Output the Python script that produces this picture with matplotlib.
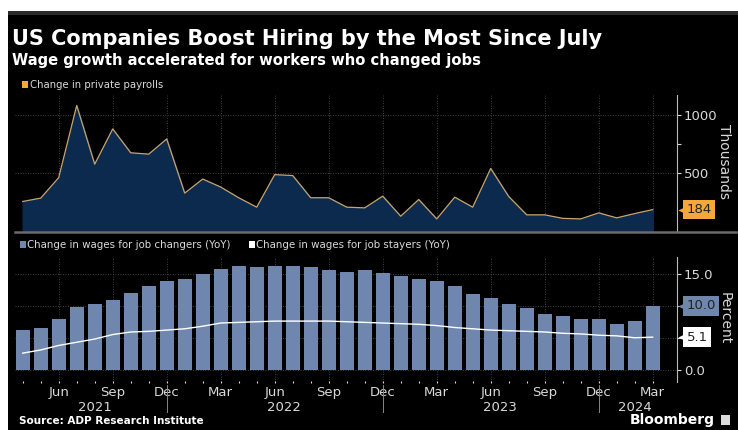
import numpy as np
import matplotlib
matplotlib.use('Agg')
import matplotlib.pyplot as plt
import matplotlib.transforms as mtransforms
from matplotlib.patches import Rectangle

plt.rcParams['font.family'] = ['DejaVu Sans']

# data (Apr 2021 - Mar 2024, monthly)
months = ['Apr', 'May', 'Jun', 'Jul', 'Aug', 'Sep', 'Oct', 'Nov', 'Dec',
          'Jan', 'Feb', 'Mar', 'Apr', 'May', 'Jun', 'Jul', 'Aug', 'Sep', 'Oct', 'Nov', 'Dec',
          'Jan', 'Feb', 'Mar', 'Apr', 'May', 'Jun', 'Jul', 'Aug', 'Sep', 'Oct', 'Nov', 'Dec',
          'Jan', 'Feb', 'Mar']
years = [2021] * 9 + [2022] * 12 + [2023] * 12 + [2024] * 3

payrolls = [254, 283, 459, 1080, 575, 878, 673, 661, 792,
            326, 447, 378, 286, 205, 485, 477, 286, 286, 205, 199, 300,
            127, 271, 104, 291, 205, 538, 297, 139, 139, 109, 104, 156,
            113, 150, 184]

job_changers = [6.2, 6.6, 8.0, 9.8, 10.3, 10.9, 12.0, 13.0, 13.8,
                14.2, 15.0, 15.7, 16.2, 16.1, 16.2, 16.2, 16.1, 15.6, 15.2, 15.6, 15.1,
                14.6, 14.2, 13.9, 13.0, 11.9, 11.2, 10.2, 9.6, 8.7, 8.4, 8.0, 8.0,
                7.1, 7.6, 10.0]

job_stayers = [2.6, 3.1, 3.8, 4.3, 4.8, 5.5, 5.9, 6.0, 6.2,
               6.4, 6.8, 7.3, 7.4, 7.5, 7.6, 7.6, 7.6, 7.6, 7.5, 7.4, 7.3,
               7.2, 7.1, 6.9, 6.6, 6.4, 6.2, 6.1, 6.0, 5.9, 5.7, 5.6, 5.4,
               5.3, 5.0, 5.1]

W, H = 738, 430
fig = plt.figure(figsize=(W / 100, H / 100), dpi=100)
fig.patch.set_facecolor('white')

def fx(px):
    return px / W

def fy(py):
    return 1 - py / H

# black card + dark top band (drawn behind everything)
fig.patches.append(Rectangle((fx(8), 0), 1 - fx(8), fy(11), transform=fig.transFigure,
                             facecolor='black', edgecolor='none', zorder=-10))
fig.patches.append(Rectangle((fx(8), fy(15)), 1 - fx(8), fy(11) - fy(15), transform=fig.transFigure,
                             facecolor='#2b2b2b', edgecolor='none', zorder=-9))

x = np.arange(len(months))
xlim = ((15 - 22.7) / 18, (677 - 22.7) / 18)
grid_color = '#555555'
tick_color = '#d9d9d9'
quarter_pos = [i for i, m in enumerate(months) if m in ('Jun', 'Sep', 'Dec', 'Mar')]


def badge(ax, value, text, color):
    # last-value tag on the right axis, box with a small notch
    trans = mtransforms.blended_transform_factory(ax.transAxes, ax.transData)
    ax.annotate(text, xy=(1.0, value), xycoords=trans,
                xytext=(7, 0), textcoords='offset points', va='center', ha='left',
                fontsize=9.5, color='#222222', annotation_clip=False,
                bbox=dict(boxstyle='square,pad=0.25', fc=color, ec='none'))
    ax.plot([1.0 + 4.5 / 662], [value], marker='<', ms=6, color=color, mec='none',
            transform=trans, clip_on=False, zorder=5)


# ---- top panel: private payrolls ----
ax1 = fig.add_axes([fx(15), fy(231), fx(677) - fx(15), fy(95) - fy(231)])
ax1.set_facecolor('none')
ax1.fill_between(x, payrolls, 0, color='#0c2a4d', zorder=2)
ax1.plot(x, payrolls, color='#c9a36a', lw=0.9, zorder=3)
ax1.set_xlim(*xlim)
ax1.set_ylim(0, 1170)
for q in quarter_pos:
    ax1.axvline(q, color=grid_color, lw=0.6, ls=(0, (1, 2)), zorder=1)
for yv in (500, 1000):
    ax1.axhline(yv, color=grid_color, lw=0.6, ls=(0, (1, 2)), zorder=1)
ax1.yaxis.tick_right()
ax1.set_yticks([500, 1000])
ax1.set_yticks([750], minor=True)
ax1.tick_params(axis='y', which='both', colors=tick_color, labelsize=9.5, length=3, width=0.8, pad=2)
ax1.tick_params(axis='x', bottom=False, labelbottom=False)
for s in ['top', 'left', 'bottom']:
    ax1.spines[s].set_visible(False)
ax1.spines['right'].set_color('#bbbbbb')
ax1.spines['right'].set_linewidth(0.8)
badge(ax1, payrolls[-1], f'{payrolls[-1]}', '#f5a83a')
fig.text(fx(724), fy(162), 'Thousands', rotation=270, color=tick_color, fontsize=10,
         ha='center', va='center')

# separator line
fig.add_artist(plt.Line2D([fx(15), fx(736)], [fy(231.5), fy(231.5)], transform=fig.transFigure,
                          color='#6a6a6a', lw=1.8))

# ---- bottom panel: wages ----
ax2 = fig.add_axes([fx(15), fy(382), fx(677) - fx(15), fy(257) - fy(382)])
ax2.set_facecolor('none')
ax2.bar(x, job_changers, width=0.76, color='#6f87ae', zorder=2)
ax2.plot(x, job_stayers, color='white', lw=1.0, zorder=3)
ax2.set_xlim(*xlim)
ax2.set_ylim(-1.9, 17.6)
for q in quarter_pos:
    ax2.axvline(q, color=grid_color, lw=0.6, ls=(0, (1, 2)), zorder=1)
for yv in (0, 5, 10, 15):
    ax2.axhline(yv, color=grid_color, lw=0.6, ls=(0, (1, 2)), zorder=1)
ax2.yaxis.tick_right()
ax2.set_yticks([0, 15])
ax2.set_yticklabels(['0.0', '15.0'])
ax2.set_yticks([5, 10], minor=True)
ax2.tick_params(axis='y', which='both', colors=tick_color, labelsize=9.5, length=3, width=0.8, pad=2)
ax2.set_xticks(quarter_pos)
ax2.set_xticklabels([months[i] for i in quarter_pos])
ax2.set_xticks(x, minor=True)
ax2.tick_params(axis='x', which='both', colors=tick_color, labelsize=9.5, length=2, width=0.8,
                direction='inout', pad=2)
for s in ['top', 'left', 'bottom']:
    ax2.spines[s].set_visible(False)
ax2.spines['right'].set_color('#bbbbbb')
ax2.spines['right'].set_linewidth(0.8)

badge(ax2, job_changers[-1], f'{job_changers[-1]:.1f}', '#6f87ae')
badge(ax2, job_stayers[-1], f'{job_stayers[-1]:.1f}', 'white')
fig.text(fx(725), fy(318), 'Percent', rotation=270, color=tick_color, fontsize=10,
         ha='center', va='center')

# year labels and separators
for yr in sorted(set(years)):
    idx = [i for i, v in enumerate(years) if v == yr]
    ax2.text((idx[0] + idx[-1]) / 2, -0.15, str(yr), transform=ax2.get_xaxis_transform(),
             ha='center', va='top', color=tick_color, fontsize=9.5)
for i, m in enumerate(months):
    if m == 'Dec':
        ax2.plot([i, i], [-0.02, -0.24], transform=ax2.get_xaxis_transform(), color='#888888',
                 lw=0.7, clip_on=False)

# ---- texts ----
fig.text(fx(12), fy(39), 'US Companies Boost Hiring by the Most Since July', color='white',
         fontsize=15.0, fontweight='bold', va='center', ha='left')
fig.text(fx(12), fy(61), 'Wage growth accelerated for workers who changed jobs', color='white',
         fontsize=10.6, fontweight='bold', va='center', ha='left')

fig.patches.append(Rectangle((fx(22), fy(88)), fx(6), fy(81) - fy(88), transform=fig.transFigure,
                             facecolor='#f5a83a', edgecolor='none'))
fig.text(fx(30), fy(84.5), 'Change in private payrolls', color=tick_color, fontsize=7.3,
         va='center', ha='left')

fig.patches.append(Rectangle((fx(20), fy(248)), fx(6), fy(241) - fy(248), transform=fig.transFigure,
                             facecolor='#6f87ae', edgecolor='none'))
fig.text(fx(27), fy(244.5), 'Change in wages for job changers (YoY)', color=tick_color, fontsize=7.4,
         va='center', ha='left')
fig.patches.append(Rectangle((fx(249), fy(248)), fx(6), fy(241) - fy(248), transform=fig.transFigure,
                             facecolor='white', edgecolor='none'))
fig.text(fx(256), fy(244.5), 'Change in wages for job stayers (YoY)', color=tick_color, fontsize=7.4,
         va='center', ha='left')

fig.text(fx(19), fy(421), 'Source: ADP Research Institute', color='white', fontsize=7.5,
         fontweight='bold', va='center', ha='left')
fig.text(fx(715), fy(420), 'Bloomberg', color='white', fontsize=10, fontweight='bold',
         va='center', ha='right')
fig.patches.append(Rectangle((fx(721), fy(425)), fx(9), fy(415) - fy(425), transform=fig.transFigure,
                             facecolor='#dddddd', edgecolor='none'))

fig.savefig('out.png', dpi=100, facecolor=fig.get_facecolor())
